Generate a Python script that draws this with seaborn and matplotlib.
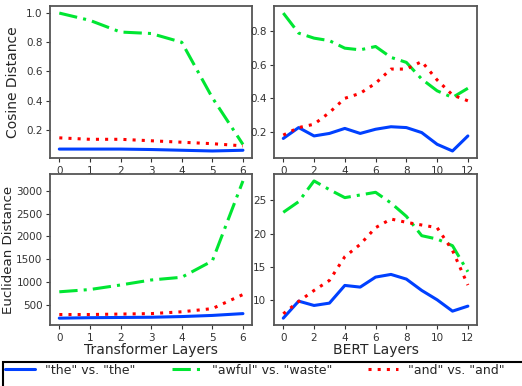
import numpy as np
import pandas as pd
import matplotlib
matplotlib.use('Agg')
import matplotlib.pyplot as plt
from matplotlib.patches import Rectangle
import seaborn as sns

sns.set_style('ticks')
plt.rcParams.update({'font.family': ['DejaVu Sans'], 'axes.edgecolor': '#555555',
                     'axes.linewidth': 1.3, 'xtick.color': '#333333', 'ytick.color': '#333333'})

# Layer indices
trans_layers = [0, 1, 2, 3, 4, 5, 6]
bert_layers = list(range(13))

# Cosine distance - Transformer
cos_tr_the = [0.068, 0.068, 0.068, 0.065, 0.060, 0.055, 0.060]
cos_tr_awful = [1.0, 0.95, 0.87, 0.86, 0.80, 0.42, 0.10]
cos_tr_and = [0.145, 0.135, 0.135, 0.125, 0.115, 0.105, 0.09]

# Cosine distance - BERT
cos_bt_the = [0.16, 0.225, 0.175, 0.19, 0.22, 0.19, 0.215, 0.23, 0.225, 0.195, 0.125, 0.085, 0.175]
cos_bt_awful = [0.91, 0.79, 0.76, 0.745, 0.70, 0.69, 0.71, 0.645, 0.615, 0.515, 0.445, 0.405, 0.46]
cos_bt_and = [0.18, 0.225, 0.245, 0.315, 0.40, 0.43, 0.49, 0.575, 0.575, 0.62, 0.51, 0.42, 0.385]

# Euclidean distance - Transformer
euc_tr_the = [200, 210, 215, 220, 235, 260, 300]
euc_tr_awful = [780, 830, 930, 1040, 1100, 1460, 3220]
euc_tr_and = [280, 280, 290, 300, 340, 410, 720]

# Euclidean distance - BERT
euc_bt_the = [7.35, 9.9, 9.25, 9.6, 12.25, 12.0, 13.5, 13.9, 13.2, 11.5, 10.1, 8.4, 9.15]
euc_bt_awful = [23.2, 24.8, 27.9, 26.6, 25.4, 25.8, 26.2, 24.6, 22.6, 19.7, 19.2, 18.2, 14.3]
euc_bt_and = [8.0, 9.85, 11.5, 13.0, 16.55, 18.4, 20.9, 22.2, 21.7, 21.3, 20.9, 17.5, 12.3]

labels = ['"the" vs. "the"', '"awful" vs. "waste"', '"and" vs. "and"']
colors = ['#0040ff', '#00e632', '#ff0000']
styles = ['-', (0, (6, 2, 1, 2)), (0, (1, 2))]

panels = [
    (trans_layers, [cos_tr_the, cos_tr_awful, cos_tr_and]),
    (bert_layers, [cos_bt_the, cos_bt_awful, cos_bt_and]),
    (trans_layers, [euc_tr_the, euc_tr_awful, euc_tr_and]),
    (bert_layers, [euc_bt_the, euc_bt_awful, euc_bt_and]),
]

fig = plt.figure(figsize=(5.22, 3.86), dpi=100)
rects = [[0.096, 0.591, 0.387, 0.393], [0.525, 0.591, 0.389, 0.393],
         [0.096, 0.158, 0.387, 0.391], [0.525, 0.158, 0.389, 0.391]]
axes = [fig.add_axes(r) for r in rects]

for ax, (xs, series) in zip(axes, panels):
    for ys, lab, c, ls in zip(series, labels, colors, styles):
        df = pd.DataFrame({'layer': xs, 'dist': ys})
        sns.lineplot(data=df, x='layer', y='dist', ax=ax, color=c, lw=2.2,
                     linestyle=ls, label=lab, legend=False)
    ax.set_xlabel('')
    ax.set_ylabel('')
    ax.tick_params(labelsize=7.5, length=3, pad=2.5)

axes[0].set_xticks(trans_layers)
axes[2].set_xticks(trans_layers)
axes[1].set_xticks(bert_layers[::2])
axes[3].set_xticks(bert_layers[::2])
axes[0].set_yticks([0.2, 0.4, 0.6, 0.8, 1.0])
axes[1].set_yticks([0.2, 0.4, 0.6, 0.8])
axes[2].set_yticks([500, 1000, 1500, 2000, 2500, 3000])
axes[3].set_yticks([10, 15, 20, 25])

axes[0].set_ylabel('Cosine Distance', fontsize=10, labelpad=4)
axes[2].set_ylabel('Euclidean Distance', fontsize=9.6, labelpad=1)
axes[2].set_xlabel('Transformer Layers', fontsize=10, labelpad=0)
axes[3].set_xlabel('BERT Layers', fontsize=10, labelpad=0)

handles, _ = axes[0].get_legend_handles_labels()
leg = fig.legend(handles, labels, loc='center left', bbox_to_anchor=(0.0, 1 - 370 / 386),
                 ncol=3, fontsize=9, frameon=False, handlelength=2.4,
                 columnspacing=2.9, borderaxespad=0)

# legend frame, cut off at the bottom and right edge like the source
fig.patches.append(Rectangle((3 / 522, -0.05), 1.0, 1 - 362 / 386 + 0.05,
                             transform=fig.transFigure, fill=False,
                             edgecolor='black', linewidth=1.5))

fig.savefig('out.png', dpi=100)
